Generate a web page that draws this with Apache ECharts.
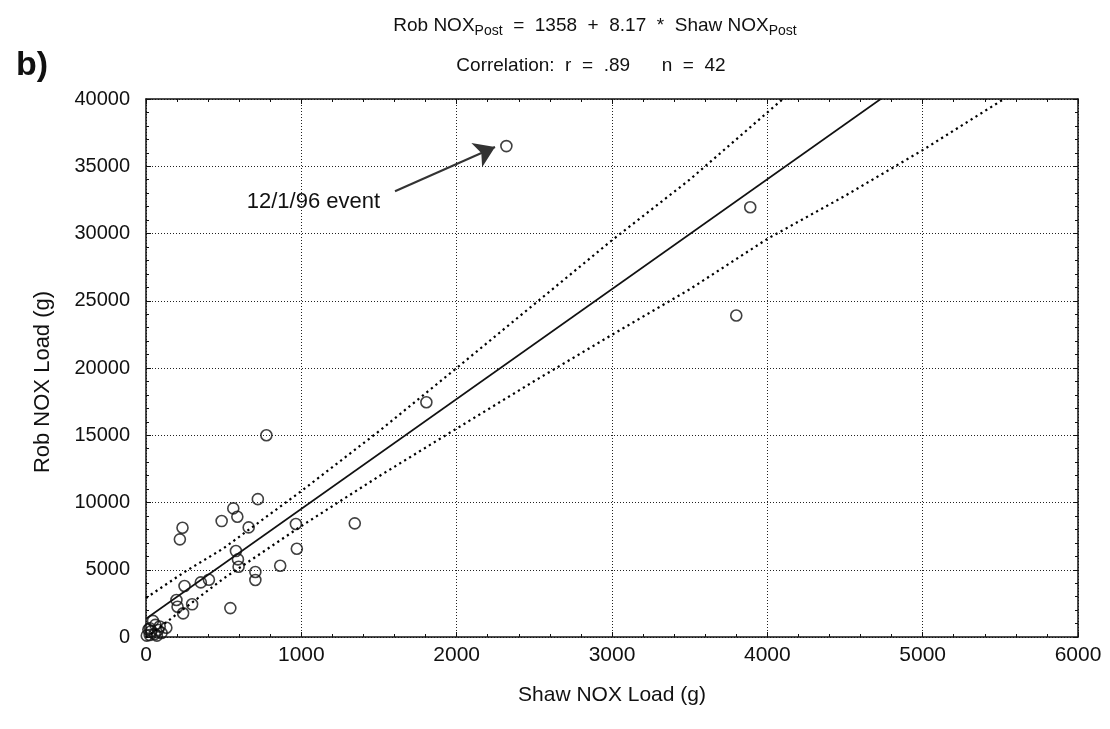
<!DOCTYPE html>
<html>
<head>
<meta charset="utf-8">
<title>Rob vs Shaw NOX load</title>
<script src="https://cdn.jsdelivr.net/npm/echarts@6/dist/echarts.min.js"></script>
<style>
  html, body { margin: 0; padding: 0; background: #fff; }
  #chart { width: 1110px; height: 729px; }
</style>
</head>
<body>
<div id="chart"></div>
<script>
// Shaw NOX load (g) vs Rob NOX load (g), post period
var points = [
  [2320, 36500], [3890, 31950], [3800, 23900], [1805, 17450], [775, 15000],
  [720, 10250], [562, 9560], [588, 8940], [487, 8620], [661, 8150],
  [235, 8120], [218, 7260], [965, 8400], [1344, 8450], [971, 6560],
  [579, 6390], [592, 5770], [596, 5220], [864, 5300], [704, 4830],
  [704, 4235], [353, 4060], [405, 4260], [248, 3790], [196, 2750],
  [203, 2250], [297, 2430], [239, 1760], [543, 2150], [45, 1200],
  [78, 520], [131, 690], [24, 650], [24, 150], [56, 220],
  [88, 780], [5, 100], [35, 450], [100, 300], [60, 900],
  [15, 550], [70, 100]
]

// fitted line, read at its two ends
var fitLine = [[0, 1358], [4730, 40000]]

// dotted confidence bands
var upperBand = [
  [0, 2900], [250, 4850], [500, 6600], [1000, 10850], [1500, 15300],
  [2000, 20000], [2500, 24750], [3000, 29500], [3500, 34000], [4100, 40000]
]
var lowerBand = [
  [0, -50], [250, 2150], [500, 4350], [1000, 8250], [1500, 11950],
  [2000, 15500], [2500, 19030], [3000, 22470], [3500, 25850], [4000, 29600],
  [4500, 32800], [5000, 36200], [5523, 40000]
]

// annotation
var arrowFrom = [1603, 33140]
var arrowTo = [2247, 36430]
var eventLabelAt = [1078, 32360]
var eventLabel = '12/1/96 event'

var xTicks = [0, 1000, 2000, 3000, 4000, 5000, 6000]
var yTicks = [0, 5000, 10000, 15000, 20000, 25000, 30000, 35000, 40000]

var font = 'Liberation Sans, Arial, sans-serif'
var ink = '#111'

var chart = echarts.init(document.getElementById('chart'))

var gridDots = { color: '#222', width: 1, type: [1, 2] }
var frame = { show: true, onZero: false, lineStyle: { color: ink, width: 1.5 } }

function plain(v) { return String(v) }

function axisCommon(min, max, interval, showLabels) {
  return {
    type: 'value',
    min: min,
    max: max,
    interval: interval,
    axisLine: frame,
    axisTick: { show: true, inside: true, length: 5, lineStyle: { color: ink, width: 1 } },
    minorTick: { show: true, splitNumber: 5, length: 3, lineStyle: { color: ink, width: 1 } },
    axisLabel: { show: showLabels, color: ink, fontSize: 20, fontFamily: font, formatter: plain },
    splitLine: { show: showLabels, lineStyle: gridDots }
  }
}

var xBottom = axisCommon(xTicks[0], xTicks[xTicks.length - 1], 1000, true)
xBottom.position = 'bottom'
xBottom.name = 'Shaw NOX Load (g)'
xBottom.nameLocation = 'middle'
xBottom.nameGap = 48
xBottom.nameTextStyle = { color: ink, fontSize: 21, fontFamily: font }
xBottom.axisLabel.margin = 8
xBottom.axisLabel.fontSize = 21

var xTop = axisCommon(xTicks[0], xTicks[xTicks.length - 1], 1000, false)
xTop.position = 'top'

var yLeft = axisCommon(yTicks[0], yTicks[yTicks.length - 1], 5000, true)
yLeft.position = 'left'
yLeft.name = 'Rob NOX Load (g)'
yLeft.nameLocation = 'middle'
yLeft.nameGap = 92
yLeft.nameTextStyle = { color: ink, fontSize: 22, fontFamily: font, padding: [0, 28, 0, 0] }
yLeft.axisLabel.margin = 16

var yRight = axisCommon(yTicks[0], yTicks[yTicks.length - 1], 5000, false)
yRight.position = 'right'

chart.setOption({
  animation: false,
  textStyle: { fontFamily: font },
  title: [
    {
      text: 'Rob NOX{sub|Post}  =  1358  +  8.17  *  Shaw NOX{sub|Post}',
      left: 590,
      top: 10,
      textAlign: 'center',
      textStyle: {
        color: ink,
        fontSize: 19,
        fontWeight: 'normal',
        fontFamily: font,
        lineHeight: 22,
        rich: {
          sub: { fontSize: 14, lineHeight: 14, padding: [10, 0, 0, 0], color: ink, fontFamily: font }
        }
      }
    },
    {
      text: 'Correlation:  r  =  .89      n  =  42',
      left: 586,
      top: 51,
      textAlign: 'center',
      textStyle: { color: ink, fontSize: 19, fontWeight: 'normal', fontFamily: font }
    },
    {
      text: 'b)',
      left: 11,
      top: 44,
      textStyle: { color: ink, fontSize: 34, fontWeight: 'bold', fontFamily: font }
    }
  ],
  grid: { left: 146, right: 32, top: 99, bottom: 92, containLabel: false },
  xAxis: [xBottom, xTop],
  yAxis: [yLeft, yRight],
  series: [
    {
      name: 'upper',
      type: 'line',
      data: upperBand,
      showSymbol: false,
      silent: true,
      lineStyle: { color: '#000', width: 2.2, type: [2.2, 3.6] }
    },
    {
      name: 'lower',
      type: 'line',
      data: lowerBand,
      showSymbol: false,
      silent: true,
      lineStyle: { color: '#000', width: 2.2, type: [2.2, 3.6] }
    },
    {
      name: 'fit',
      type: 'line',
      data: fitLine,
      showSymbol: false,
      silent: true,
      lineStyle: { color: ink, width: 1.6 }
    },
    {
      name: 'NOX',
      type: 'scatter',
      data: points,
      symbol: 'circle',
      symbolSize: 11,
      itemStyle: { color: 'rgba(0,0,0,0)', borderColor: ink, borderWidth: 1.6 },
      markLine: {
        silent: true,
        symbol: ['none', 'arrow'],
        symbolSize: 20,
        label: { show: false },
        lineStyle: { color: '#333', width: 2, type: 'solid' },
        data: [[{ coord: arrowFrom }, { coord: arrowTo }]]
      },
      markPoint: {
        silent: true,
        symbol: 'circle',
        symbolSize: 0,
        label: {
          show: true,
          position: 'inside',
          formatter: eventLabel,
          color: ink,
          fontSize: 22,
          fontFamily: font
        },
        data: [{ coord: eventLabelAt }]
      }
    }
  ]
})
</script>
</body>
</html>
